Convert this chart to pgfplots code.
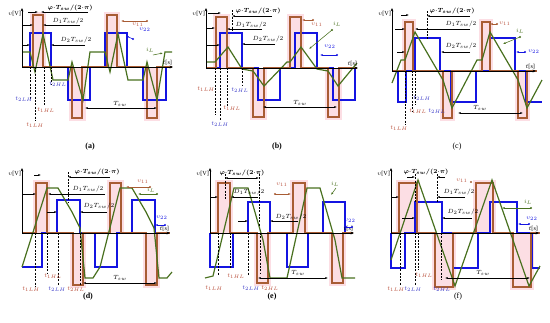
\documentclass[border=0pt]{standalone}
\usepackage{pgfplots}
\pgfplotsset{compat=1.18}
\usepackage{fontspec}
\setmainfont{Liberation Serif}
\usetikzlibrary{arrows.meta}
\definecolor{brc}{RGB}{168,92,52}
\definecolor{blc}{RGB}{20,20,225}
\definecolor{grc}{RGB}{72,112,30}
\definecolor{pinkc}{RGB}{252,222,228}
\definecolor{t1c}{RGB}{185,80,60}
\definecolor{t2c}{RGB}{60,60,200}
\tikzset{arr/.style={-{Latex[length=2.6pt,width=2pt]}, line width=0.55pt},
 arr2/.style={{Latex[length=2.6pt,width=2pt]}-{Latex[length=2.6pt,width=2pt]}, line width=0.55pt}}
\pgfplotsset{panel/.style={hide axis, clip=false, x=1pt, y=1pt, y dir=reverse,
   xmin=0, xmax=180, ymin=0, ymax=160, anchor=north west},
 br/.style={brc, line width=1.25pt, mark=none},
 bl/.style={blc, line width=1.25pt, mark=none},
 gr/.style={grc, line width=1.2pt, mark=none}}
\newcommand{\lbl}{\fontsize{6.2}{7}\selectfont}
\newcommand{\AX}[3]{%
 \draw[-{Stealth[length=3.4pt,width=2.8pt]}, line width=0.8pt] (#1,#2)--(#1,8);
 \draw[-{Stealth[length=3.4pt,width=2.8pt]}, line width=0.8pt] (#1,#2)--(#3,#2);
 \node[anchor=east, font=\lbl, inner sep=0.8pt] at (#1,14) {$v$[V]};
 \node[anchor=south east, font=\lbl, inner sep=0.8pt, yshift=1pt] at (#3,#2) {$t$[s]};}
\newcommand{\DS}[3]{\draw[line width=0.6pt, dash pattern=on 2pt off 1.3pt] (#1,#2)--(#1,#3);}
\newcommand{\AR}[3]{\draw[arr] (#1,#3)--(#2,#3);}
\newcommand{\DA}[3]{\draw[arr2] (#1,#3)--(#2,#3);}
\newcommand{\PK}[4]{\fill[pinkc] (#1,#2) rectangle (#3,#4);}
\newcommand{\TL}[4]{\node[font=\lbl, text=#1, inner sep=0pt] at (#2,#3) {$#4$};}
\newcommand{\PD}[3]{\fill[#1] (#2,#3) circle[radius=1.1pt];}
\newcommand{\PHI}[3]{\node[font=\fontsize{5.8}{6}\selectfont\boldmath, anchor=#3, inner sep=0.5pt] at (#1,#2) {$\varphi{\cdot}T_{sw}/(2{\cdot}\pi)$};}
\newcommand{\DO}[2]{\node[font=\lbl, anchor=south west, inner sep=0.5pt] at (#1,#2) {$D_1T_{sw}/2$};}
\newcommand{\DT}[2]{\node[font=\lbl, anchor=south west, inner sep=0.5pt] at (#1,#2) {$D_2T_{sw}/2$};}
\newcommand{\TSW}[2]{\node[font=\lbl, anchor=south, inner sep=0.5pt] at (#1,#2) {$T_{sw}$};}
\begin{document}
\begin{tikzpicture}
% ---------------- (a)
\begin{axis}[panel, at={(0pt,0pt)}]
\PK{30}{12}{46}{67}\PK{69}{67}{86}{121}\PK{104}{12}{120}{67}\PK{144}{67}{160}{121}
\addplot[bl] coordinates {(22,67)(30,67)(30,33)(51,33)(51,67)(68,67)(68,100)(90,100)(90,67)(105,67)(105,33)(127,33)(127,67)(143,67)(143,100)(166,100)(166,67)(172,67)};
\addplot[br] coordinates {(22,67)(33,67)(33,15)(43,15)(43,67)(72,67)(72,118)(82,118)(82,67)(107,67)(107,15)(117,15)(117,67)(147,67)(147,118)(157,118)(157,67)(172,67)};
\addplot[gr] coordinates {(22,52)(30,52)(35,72)(43,34)(53,80)(68,80)(72,62)(83,100)(90,52)(105,52)(110,72)(118,34)(128,80)(143,80)(147,62)(157,100)(165,52)(172,52)};
\AX{22}{67}{173}
\DS{30}{67}{100}\DS{35}{67}{120}\DS{44}{67}{105}\DS{51}{67}{85}
\TL{t2c}{24}{99}{t_{2LH}}\TL{t1c}{35}{125}{t_{1LH}}\TL{t1c}{46}{110}{t_{1HL}}\TL{t2c}{58}{84}{t_{2HL}}
\AR{28}{38}{12}\AR{88}{41}{12}\PHI{47}{12}{south west}
\AR{22}{33}{25}\AR{80}{43}{25}\DO{52}{25}
\AR{22}{30}{45}\AR{85}{51}{45}\DT{60}{44}
\draw[arr,brc] (147,21)--(121,21);\PD{brc}{147}{21}\TL{t1c}{138}{25}{v_{11}}
\draw[arr,blc] (133,39)--(126,36);\PD{blc}{133}{39}\TL{blc}{145}{30}{v_{22}}
\draw[arr,grc] (153,55)--(163,53);\TL{grc}{150}{50}{i_L}
\DA{85}{157}{108}\TSW{120}{107}
\node[font=\bfseries\fontsize{8}{9}\selectfont] at (90,147) {(a)};
\end{axis}
% ---------------- (b)
\begin{axis}[panel, at={(180pt,0pt)}]
\PK{33}{14}{50}{68}\PK{70}{68}{87}{120}\PK{107}{14}{124}{68}\PK{145}{68}{162}{120}
\addplot[bl] coordinates {(26,68)(40,68)(40,33)(62,33)(62,68)(78,68)(78,100)(100,100)(100,68)(115,68)(115,33)(137,33)(137,68)(153,68)(153,100)(175,100)(175,68)(177,68)};
\addplot[br] coordinates {(26,68)(36,68)(36,17)(47,17)(47,68)(73,68)(73,117)(84,117)(84,68)(110,68)(110,17)(121,17)(121,68)(148,68)(148,117)(159,117)(159,68)(177,68)};
\addplot[gr] coordinates {(26,62)(35,62)(48,47)(62,69)(73,71)(84,86)(107,62)(110,62)(121,47)(137,69)(148,71)(158,86)(177,63)};
\AX{26}{68}{178}
\DS{35}{68}{115}\DS{40}{68}{120}\DS{47}{68}{107}\DS{62}{68}{86}\DS{52}{10}{30}
\TL{t1c}{26}{89}{t_{1LH}}\TL{t1c}{52}{108}{t_{1HL}}\TL{t2c}{40}{124}{t_{2LH}}\TL{t2c}{60}{90}{t_{2HL}}
\AR{28}{41}{13}\AR{92}{52}{16}\PHI{55}{15}{south west}
\AR{26}{35}{28}\AR{82}{47}{29}\DO{55}{29}
\AR{26}{40}{45}\AR{95}{62}{44}\DT{72}{43}
\draw[arr,brc] (133,20)--(122,20);\PD{brc}{133}{20}\TL{t1c}{137}{25}{v_{11}}
\draw[arr,grc] (152,30)--(129,49);\PD{grc}{152}{30}\TL{grc}{157}{24}{i_L}
\draw[arr,blc] (157,55)--(140,55);\PD{blc}{157}{55}\TL{blc}{150}{47}{v_{22}}
\DA{83}{157}{107}\TSW{120}{106}
\node[font=\bfseries\fontsize{8}{9}\selectfont] at (97,147) {(b)};
\end{axis}
% ---------------- (c)
\begin{axis}[panel, at={(365pt,0pt)}]
\PK{37}{19}{51}{71}\PK{75}{71}{90}{121}\PK{114}{19}{128}{71}\PK{150}{71}{165}{121}
\addplot[bl] coordinates {(27,71)(33,71)(33,102)(41,102)(41,71)(50,71)(50,38)(75,38)(75,71)(86,71)(86,102)(111,102)(111,71)(125,71)(125,38)(150,38)(150,71)(161,71)(161,102)(177,102)};
\addplot[br] coordinates {(27,71)(40,71)(40,22)(48,22)(48,71)(78,71)(78,118)(87,118)(87,71)(117,71)(117,22)(125,22)(125,71)(153,71)(153,118)(162,118)(162,71)(172,71)};
\addplot[gr] coordinates {(27,83)(36,60)(40,60)(50,32)(78,80)(87,108)(112,60)(117,60)(125,32)(153,80)(162,108)(177,80)};
\AX{27}{71}{171}
\DS{40}{71}{125}\DS{47}{71}{112}\DS{50}{71}{105}\DS{62}{11}{40}
\TL{t1c}{34}{128}{t_{1LH}}\TL{t1c}{53}{111}{t_{1HL}}\TL{t2c}{57}{98}{t_{2LH}}\TL{t2c}{72}{111}{t_{2HL}}
\AR{36}{44}{15}\AR{105}{62}{16}\PHI{64}{15}{south west}
\AR{30}{40}{29}\AR{105}{50}{29}\DO{80}{28}
\AR{32}{40}{52}\AR{105}{76}{52}\DT{80}{50}
\draw[arr,brc] (132,24)--(125,24);\PD{brc}{132}{24}\TL{t1c}{140}{24}{v_{11}}
\draw[arr,grc] (155,37)--(138,44);\PD{grc}{155}{37}\TL{grc}{155}{31}{i_L}
\draw[arr,blc] (160,52)--(151,52);\PD{blc}{160}{52}\TL{blc}{169}{52}{v_{22}}
\DA{93}{158}{113}\TSW{115}{111}
\node[font=\fontsize{8}{9}\selectfont] at (92,147) {(c)};
\end{axis}
% ---------------- (d)
\begin{axis}[panel, at={(0pt,-160pt)}]
\PK{33}{20}{50}{73}\PK{70}{73}{86}{128}\PK{107}{20}{124}{73}\PK{143}{73}{160}{128}
\addplot[bl] coordinates {(22,107)(42,107)(42,73)(57,73)(57,40)(80,40)(80,73)(95,73)(95,107)(117,107)(117,73)(132,73)(132,40)(155,40)(155,73)(170,73)};
\addplot[br] coordinates {(22,73)(36,73)(36,23)(47,23)(47,73)(73,73)(73,125)(83,125)(83,73)(110,73)(110,23)(121,23)(121,73)(146,73)(146,125)(157,125)(157,73)(170,73)};
\addplot[gr] coordinates {(22,107)(47,28)(58,28)(72,52)(80,68)(85,118)(93,118)(100,107)(120,28)(132,28)(146,52)(154,68)(159,118)(167,118)(172,112)};
\AX{22}{73}{170}
\DS{35}{73}{127}\DS{47}{73}{113}\DS{58}{73}{125}\DS{80}{73}{125}\DS{68}{12}{42}
\TL{t1c}{31}{129}{t_{1LH}}\TL{t1c}{53}{116}{t_{1HL}}\TL{t2c}{57}{129}{t_{2LH}}\TL{t1c}{76}{129}{t_{2HL}}
\AR{34}{41}{15}\AR{110}{68}{17}\PHI{74}{16}{south west}
\AR{22}{36}{34}\AR{105}{48}{34}\DO{72}{33}
\AR{47}{57}{52}\AR{107}{80}{52}\DT{83}{50}
\draw[arr,brc] (150,27)--(126,27);\PD{brc}{150}{27}\TL{t1c}{143}{22}{v_{11}}
\draw[arr,grc] (157,34)--(138,34);\PD{grc}{157}{34}\TL{grc}{151}{30}{i_L}
\draw[arr,blc] (165,65)--(155,65);\PD{blc}{165}{65}\TL{blc}{162}{58}{v_{22}}
\DA{83}{157}{123}\TSW{120}{121}
\node[font=\bfseries\fontsize{8}{9}\selectfont] at (88,137) {(d)};
\end{axis}
% ---------------- (e)
\begin{axis}[panel, at={(180pt,-160pt)}]
\PK{35}{20}{53}{73}\PK{74}{73}{91}{126}\PK{110}{20}{128}{73}\PK{149}{73}{166}{126}
\addplot[bl] coordinates {(30,73)(30,107)(53,107)(53,73)(68,73)(68,42)(90,42)(90,73)(107,73)(107,107)(128,107)(128,73)(143,73)(143,42)(165,42)(165,73)(173,73)};
\addplot[br] coordinates {(30,73)(38,73)(38,23)(50,23)(50,73)(77,73)(77,123)(88,123)(88,73)(113,73)(113,23)(125,23)(125,73)(152,73)(152,123)(163,123)(163,73)(173,73)};
\addplot[gr] coordinates {(25,118)(33,116)(54,28)(68,28)(83,80)(90,118)(107,118)(127,28)(140,28)(155,80)(162,118)(175,118)};
\AX{30}{73}{174}
\DS{38}{73}{115}\DS{50}{73}{108}\DS{68}{73}{115}\DS{80}{73}{113}\DS{45}{14}{40}\DS{79}{14}{66}
\TL{t1c}{34}{128}{t_{1LH}}\TL{t1c}{56}{116}{t_{1HL}}\TL{t2c}{71}{128}{t_{2LH}}\TL{t1c}{90}{128}{t_{2HL}}
\DA{45}{79}{18}\PHI{62}{17}{south}
\AR{30}{38}{37}\AR{78}{51}{37}\DO{53}{36}
\AR{58}{68}{61}\AR{118}{90}{61}\DT{95}{61}
\draw[arr,brc] (95,34)--(111,34);\PD{brc}{95}{34}\TL{t1c}{102}{25}{v_{11}}
\draw[arr,grc] (156,28)--(151,35);\TL{grc}{155}{24}{i_L}
\draw[arr,blc] (172,67)--(164,67);\PD{blc}{172}{67}\TL{blc}{170}{61}{v_{22}}
\DA{78}{148}{118}\TSW{118}{116}
\node[font=\bfseries\fontsize{8}{9}\selectfont] at (92,137) {(e)};
\end{axis}
% ---------------- (f)
\begin{axis}[panel, at={(365pt,-160pt)}]
\PK{31}{20}{55}{73}\PK{67}{73}{91}{130}\PK{108}{20}{131}{73}\PK{145}{73}{169}{130}
\addplot[bl] coordinates {(26,73)(26,108)(40,108)(40,73)(50,73)(50,42)(77,42)(77,73)(88,73)(88,108)(113,108)(113,73)(125,73)(125,42)(152,42)(152,73)(167,73)(167,108)(175,108)};
\addplot[br] coordinates {(26,73)(34,73)(34,23)(52,23)(52,73)(70,73)(70,127)(88,127)(88,73)(111,73)(111,23)(128,23)(128,73)(148,73)(148,127)(166,127)(166,73)(175,73)};
\addplot[gr] coordinates {(26,100)(53,20)(90,126)(127,20)(164,126)(175,106)};
\AX{26}{73}{174}
\DS{35}{73}{125}\DS{50}{73}{125}\DS{53}{73}{110}\DS{76}{73}{120}\DS{50}{14}{42}\DS{72}{14}{42}
\TL{t1c}{31}{129}{t_{1LH}}\TL{t2c}{48}{129}{t_{2LH}}\TL{t1c}{59}{115}{t_{1HL}}\TL{t2c}{77}{129}{t_{2HL}}
\AR{42}{50}{17}\AR{80}{72}{17}\PHI{61}{16}{south}
\AR{27}{34}{37}\AR{100}{72}{37}\DO{78}{36}
\AR{37}{50}{58}\AR{107}{77}{58}\DT{82}{56}
\PD{brc}{106}{22}\TL{t1c}{97}{21}{v_{11}}
\draw[arr,grc] (166,48)--(137,48);\PD{grc}{166}{48}\TL{grc}{163}{42}{i_L}
\draw[arr,blc] (164,64)--(153,64);\PD{blc}{164}{64}\TL{blc}{167}{59}{v_{22}}
\DA{80}{165}{118}\TSW{118}{116}
\node[font=\fontsize{8}{9}\selectfont] at (93,137) {(f)};
\end{axis}
\pgfresetboundingbox
\useasboundingbox (0pt,0pt) rectangle (550pt,-322pt);
\end{tikzpicture}
\end{document}
